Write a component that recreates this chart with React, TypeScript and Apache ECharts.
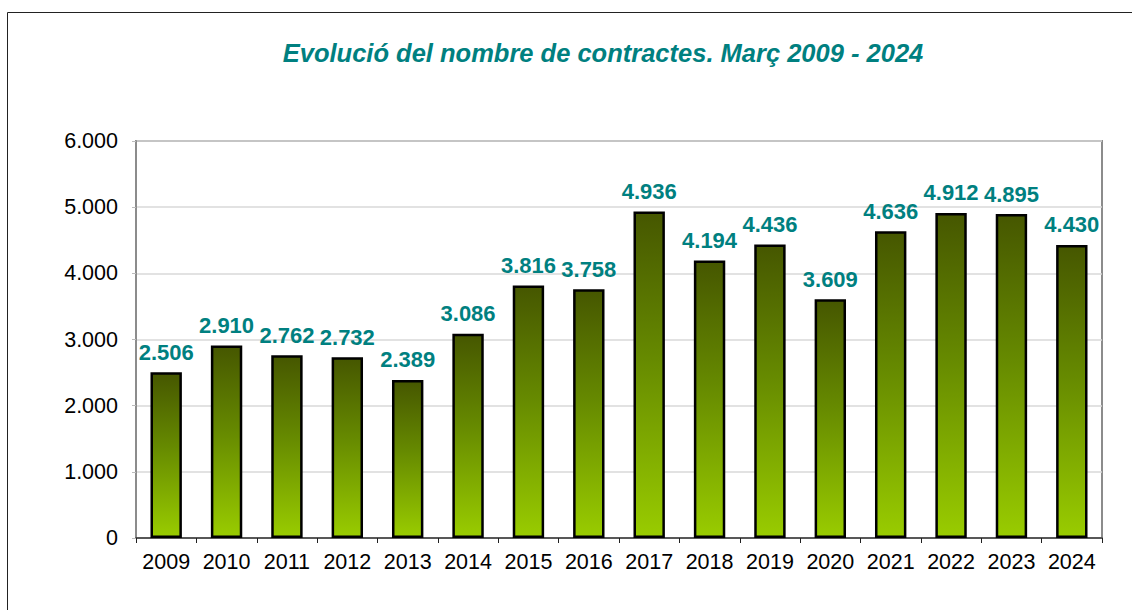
import React, { useEffect, useRef } from "react";
import * as echarts from "echarts";

const years = ["2009","2010","2011","2012","2013","2014","2015","2016","2017","2018","2019","2020","2021","2022","2023","2024"];
const contracts = [2506, 2910, 2762, 2732, 2389, 3086, 3816, 3758, 4936, 4194, 4436, 3609, 4636, 4912, 4895, 4430];
const titleText = "Evolució del nombre de contractes. Març 2009 - 2024";

const fmt = (v: number) => {
  const s = String(Math.round(v));
  return s.replace(/\B(?=(\d{3})+(?!\d))/g, ".");
};

export default function App() {
  const ref = useRef<HTMLDivElement>(null);
  useEffect(() => {
    if (!ref.current) return;
    const chart = echarts.init(ref.current, null, { renderer: "svg" });
    chart.setOption({
      animation: false,
      backgroundColor: "#ffffff",
      textStyle: { fontFamily: "Liberation Sans, Arial, sans-serif" },
      title: {
        text: titleText,
        left: 598,
        textAlign: "center",
        top: 35,
        textStyle: { color: "#008080", fontSize: 25.5, fontWeight: "bold", fontStyle: "italic", fontFamily: "Liberation Sans, Arial, sans-serif" },
      },
      graphic: [
        { type: "rect", shape: { x: 7.5, y: 12.5, width: 1140, height: 620 }, style: { fill: "none", stroke: "#222", lineWidth: 1 }, silent: true, z: -1 },
      ],
      grid: { left: 136, right: 30, top: 141, bottom: 72, show: true, borderColor: "#8c8c8c", borderWidth: 2, backgroundColor: "transparent" },
      xAxis: {
        type: "category",
        data: years,
        axisLine: { lineStyle: { color: "#333", width: 1.5 } },
        axisTick: { show: true, alignWithLabel: false, length: 5, lineStyle: { color: "#222" } },
        axisLabel: { interval: 0, hideOverlap: false, color: "#000", fontSize: 21.5, margin: 13, fontFamily: "Liberation Sans, Arial, sans-serif" },
      },
      yAxis: {
        type: "value",
        min: 0,
        max: 6000,
        interval: 1000,
        axisLine: { show: true, lineStyle: { color: "#8c8c8c", width: 2 } },
        axisTick: { show: true, length: 4, lineStyle: { color: "#bbb" } },
        axisLabel: { color: "#000", fontSize: 21.5, margin: 18, formatter: (v: number) => fmt(v), fontFamily: "Liberation Sans, Arial, sans-serif" },
        splitLine: { lineStyle: { color: "#d9d9d9", width: 1.5 } },
      },
      series: [
        {
          type: "bar",
          data: contracts,
          barWidth: "52%",
          itemStyle: {
            color: new echarts.graphic.LinearGradient(0, 0, 0, 1, [
              { offset: 0, color: "#465700" },
              { offset: 0.45, color: "#668a00" },
              { offset: 1, color: "#99cc00" },
            ]),
            borderColor: "#000",
            borderWidth: 2.5,
          },
          label: {
            show: true,
            position: "top",
            distance: 9,
            color: "#008080",
            fontSize: 22,
            fontWeight: "bold",
            fontFamily: "Liberation Sans, Arial, sans-serif",
            formatter: (p: any) => fmt(p.value),
          },
        },
      ],
    });
    return () => chart.dispose();
  }, []);
  return <div ref={ref} style={{ width: 1132, height: 610, position: "absolute", left: 0, top: 0 }} />;
}
